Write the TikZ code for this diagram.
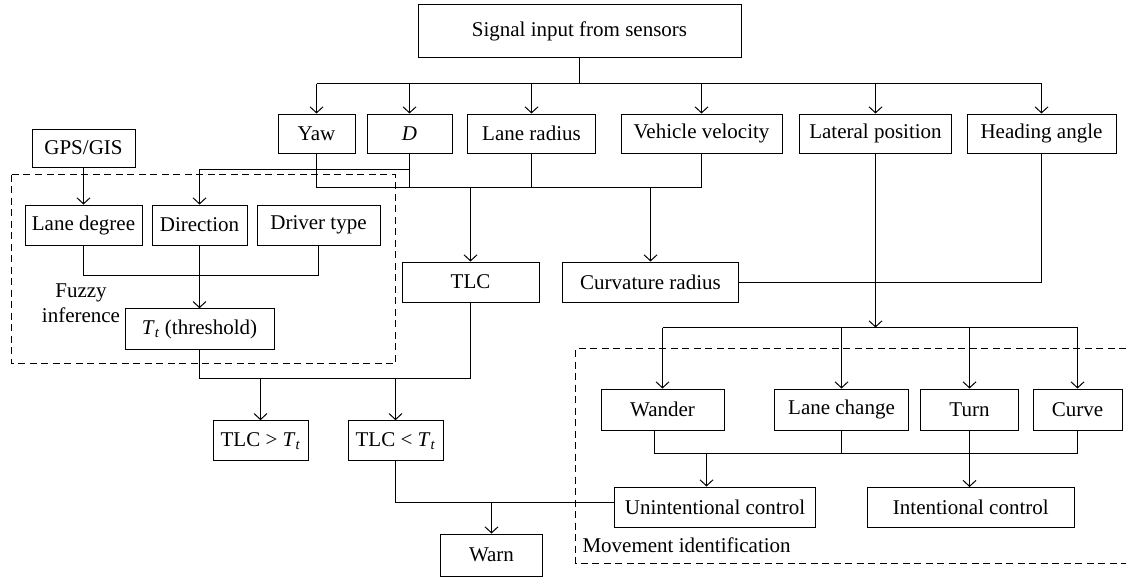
\documentclass[tikz,border=0pt]{standalone}
\usepackage{fontspec}
\setmainfont{Liberation Serif}
\usetikzlibrary{arrows.meta,positioning}
\newcommand{\Tt}{\textit{T}\textsubscript{\textit{t}}}

\begin{document}
\begin{tikzpicture}[
        x=1pt, y=-1pt,
        font=\fontsize{21}{25}\selectfont,
        line width=1pt,
        box/.style={
                draw,
                inner sep=0pt,
                minimum height=40pt,
                text centered
            },
        link/.style={-{Straight Barb[length=6pt,width=13pt]}},
        groupframe/.style={dash pattern=on 7pt off 4.5pt},
        label/.style={inner sep=0pt}
    ]
    \useasboundingbox (0,0) rectangle (1126,578);
    % Sensors
    \node[box, minimum width=323pt, minimum height=53pt] (sig) at (579.5,31.5) {Signal input from sensors};
    \node[box, minimum width=77pt, minimum height=39pt] (yaw) at (316.5,133.5) {Yaw};
    \node[box, minimum width=85pt, minimum height=39pt] (dd) at (409.5,133.5) {\textit{D}};
    \node[box, minimum width=128pt, minimum height=39pt] (lrad) at (531.5,133.5) {Lane radius};
    \node[box, minimum width=161pt, minimum height=39pt] (vvel) at (701.5,133.5) {Vehicle velocity};
    \node[box, minimum width=152pt, minimum height=39pt] (latp) at (875.5,133.5) {Lateral position};
    \node[box, minimum width=149pt, minimum height=39pt] (head) at (1041.5,133.5) {Heading angle};
    % Fuzzy inference
    \node[box, minimum width=103pt, minimum height=38pt] (gps) at (83.5,148) {GPS/GIS};
    \node[box, minimum width=117pt] (ldeg) at (83.5,225) {Lane degree};
    \node[box, minimum width=95pt] (dir) at (199.5,225) {Direction};
    \node[box, minimum width=123pt] (drv) at (318.5,225) {Driver type};
    \node[box, minimum width=149pt, minimum height=41pt] (thr) at (199.5,329.2) {\Tt{} (threshold)};
    \node[label, align=center] (fuzzy) at (81,303) {Fuzzy\\inference};
    % TLC
    \node[box, minimum width=137pt] (tlc) at (470.5,282) {TLC};
    \node[box, minimum width=176pt] (curv) at (650.5,282) {Curvature radius};
    \node[box, minimum width=95pt] (tgt) at (260.5,440.7) {TLC > \Tt};
    \node[box, minimum width=95pt] (tlt) at (395.5,440.7) {TLC < \Tt};
    \node[box, minimum width=102pt, minimum height=42pt] (warn) at (491.5,555) {Warn};
    % Movement identification
    \node[box, minimum width=123pt, minimum height=41pt] (wand) at (662.5,409.5) {Wander};
    \node[box, minimum width=134pt, minimum height=41pt] (lchg) at (841.5,409.5) {Lane change};
    \node[box, minimum width=98pt, minimum height=41pt] (turn) at (969.5,409.5) {Turn};
    \node[box, minimum width=89pt, minimum height=41pt] (curve) at (1077.5,409.5) {Curve};
    \node[box, minimum width=201pt] (unint) at (715,507) {Unintentional control};
    \node[box, minimum width=207pt] (intc) at (970.8,507.5) {Intentional control};
    \node[label, anchor=west] (movid) at (582,545) {Movement identification};

    % dashed groups
    \draw[groupframe] (11.5,174.5) rectangle (395.5,363.5);
    \draw[groupframe] (1126,348.5) -- (575.5,348.5) -- (575.5,563.5) -- (1126,563.5);

    % bus lines
    \coordinate (b0) at (0,83.5);
    \coordinate (b1) at (0,169.5);
    \coordinate (b2) at (0,187.5);
    \coordinate (b3) at (0,275.5);
    \coordinate (b4) at (0,378.5);
    \coordinate (b5) at (0,502.5);
    \coordinate (b6) at (0,327.5);
    \coordinate (b7) at (0,453.5);

    \draw (sig.south) -- (sig.south |- b0);
    \draw (yaw.north |- b0) -- (head.north |- b0);
    \foreach \n in {yaw,dd,lrad,vvel,latp,head}
        \draw[link] (\n.north |- b0) -- (\n.north);

    \draw[link] (gps) -- (ldeg);
    \draw[link] (dd.south |- b1) -| (dir.north);
    \draw (yaw.south) |- (vvel.south |- b2) -- (vvel.south);
    \draw (dd.south) -- (dd.south |- b2);
    \draw (lrad.south) -- (lrad.south |- b2);
    \draw[link] (tlc.north |- b2) -- (tlc.north);
    \draw[link] (curv.north |- b2) -- (curv.north);

    \draw (ldeg.south) |- (drv.south |- b3) -- (drv.south);
    \draw[link] (dir) -- (thr);

    \draw (thr.south) |- (tlc.south |- b4) -- (tlc.south);
    \draw[link] (tgt.north |- b4) -- (tgt.north);
    \draw[link] (tlt.north |- b4) -- (tlt.north);
    \draw (tlt.south) |- (unint.west |- b5);
    \draw[link] (warn.north |- b5) -- (warn.north);

    \draw (head.south) |- (curv.east);
    \draw[link] (latp.south) -- (latp.south |- b6);
    \draw (wand.north |- b6) -- (curve.north |- b6);
    \foreach \n in {wand,lchg,turn,curve}
        \draw[link] (\n.north |- b6) -- (\n.north);

    \draw ([xshift=-8pt]wand.south) |- (curve.south |- b7) -- (curve.south);
    \draw (lchg.south) -- (lchg.south |- b7);
    \draw[link] (turn.south) -- (turn.south |- intc.north);
    \draw[link] ([xshift=-8.5pt]unint.north |- b7) -- ([xshift=-8.5pt]unint.north);
\end{tikzpicture}
\end{document}
